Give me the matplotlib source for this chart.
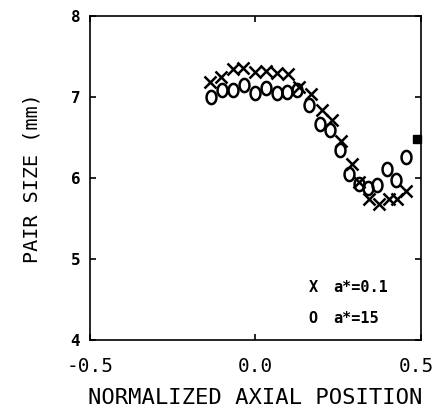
import numpy as np
import matplotlib
matplotlib.use('Agg')
from matplotlib import pyplot as plt
from matplotlib.path import Path
from matplotlib.transforms import ScaledTranslation

x_small = [-0.137, -0.105, -0.069, -0.037, 0.000, 0.032, 0.066, 0.099, 0.132, 0.168,
           0.200, 0.232, 0.260, 0.291, 0.314, 0.344, 0.374, 0.404, 0.428, 0.455]
y_small = [7.18, 7.25, 7.34, 7.36, 7.31, 7.32, 7.29, 7.28, 7.12, 7.04,
           6.84, 6.71, 6.46, 6.17, 5.95, 5.74, 5.68, 5.74, 5.74, 5.84]
x_large = [-0.135, -0.102, -0.069, -0.035, 0.000, 0.032, 0.064, 0.096, 0.127, 0.162,
           0.195, 0.225, 0.255, 0.283, 0.314, 0.341, 0.368, 0.396, 0.424, 0.454]
y_large = [7.00, 7.08, 7.09, 7.15, 7.05, 7.11, 7.05, 7.06, 7.08, 6.90,
           6.66, 6.59, 6.35, 6.05, 5.93, 5.88, 5.91, 6.11, 5.98, 6.26]
x_exit = [0.487]
y_exit = [6.48]
legend_labels = ['a*=0.1', 'a*=15']

plt.rcParams['font.family'] = ['DejaVu Sans Mono']

# slightly tall oval for the 'o' points
t = np.linspace(0, 2 * np.pi, 40)
oval = Path(np.column_stack([0.75 * np.cos(t), np.sin(t)]), closed=True)

fig = plt.figure(figsize=(4.38, 4.09), dpi=100)
ax = fig.add_axes([0.2055, 0.169, 0.7555, 0.792])

ax.plot(x_small, y_small, ls='none', marker='x', ms=8, mew=1.8, c='black')
ax.plot(x_large, y_large, ls='none', marker=oval, ms=9.5, mew=1.8, mfc='none', c='black')
ax.plot(x_exit, y_exit, ls='none', marker='s', ms=6, c='black', clip_on=False)

ax.set_xlim(-0.5, 0.5)
ax.set_ylim(4, 8)
ax.set_xticks([-0.5, 0.0, 0.5])
ax.set_yticks([4, 5, 6, 7, 8])
ax.set_xticklabels(['-0.5', '0.0', '0.5'], fontsize=14)
ax.set_yticklabels(['4', '5', '6', '7', '8'], fontsize=11.5, fontweight='bold')
ax.tick_params(axis='x', pad=12)
ax.tick_params(axis='y', pad=7)
ax.tick_params(direction='in', top=True, right=True, length=4, width=1.2)
for s in ax.spines.values():
    s.set_linewidth(1.2)

# last x label sits a bit left of its tick, as in the original
lbl = ax.get_xticklabels()[-1]
lbl.set_transform(lbl.get_transform() + ScaledTranslation(-5 / 100, 0, fig.dpi_scale_trans))

ax.set_xlabel('NORMALIZED AXIAL POSITION', fontsize=16, labelpad=9)
ax.set_ylabel('PAIR SIZE (mm)', fontsize=14.5, labelpad=21)

# legend drawn by hand as in the original
ax.text(0.174, 4.65, 'X', fontsize=11, fontweight='bold', ha='center', va='center')
ax.text(0.174, 4.27, 'O', fontsize=11, fontweight='bold', ha='center', va='center')
ax.text(0.234, 4.65, legend_labels[0], fontsize=11, fontweight='bold', ha='left', va='center')
ax.text(0.234, 4.27, legend_labels[1], fontsize=11, fontweight='bold', ha='left', va='center')

fig.savefig('out.png', dpi=100)
